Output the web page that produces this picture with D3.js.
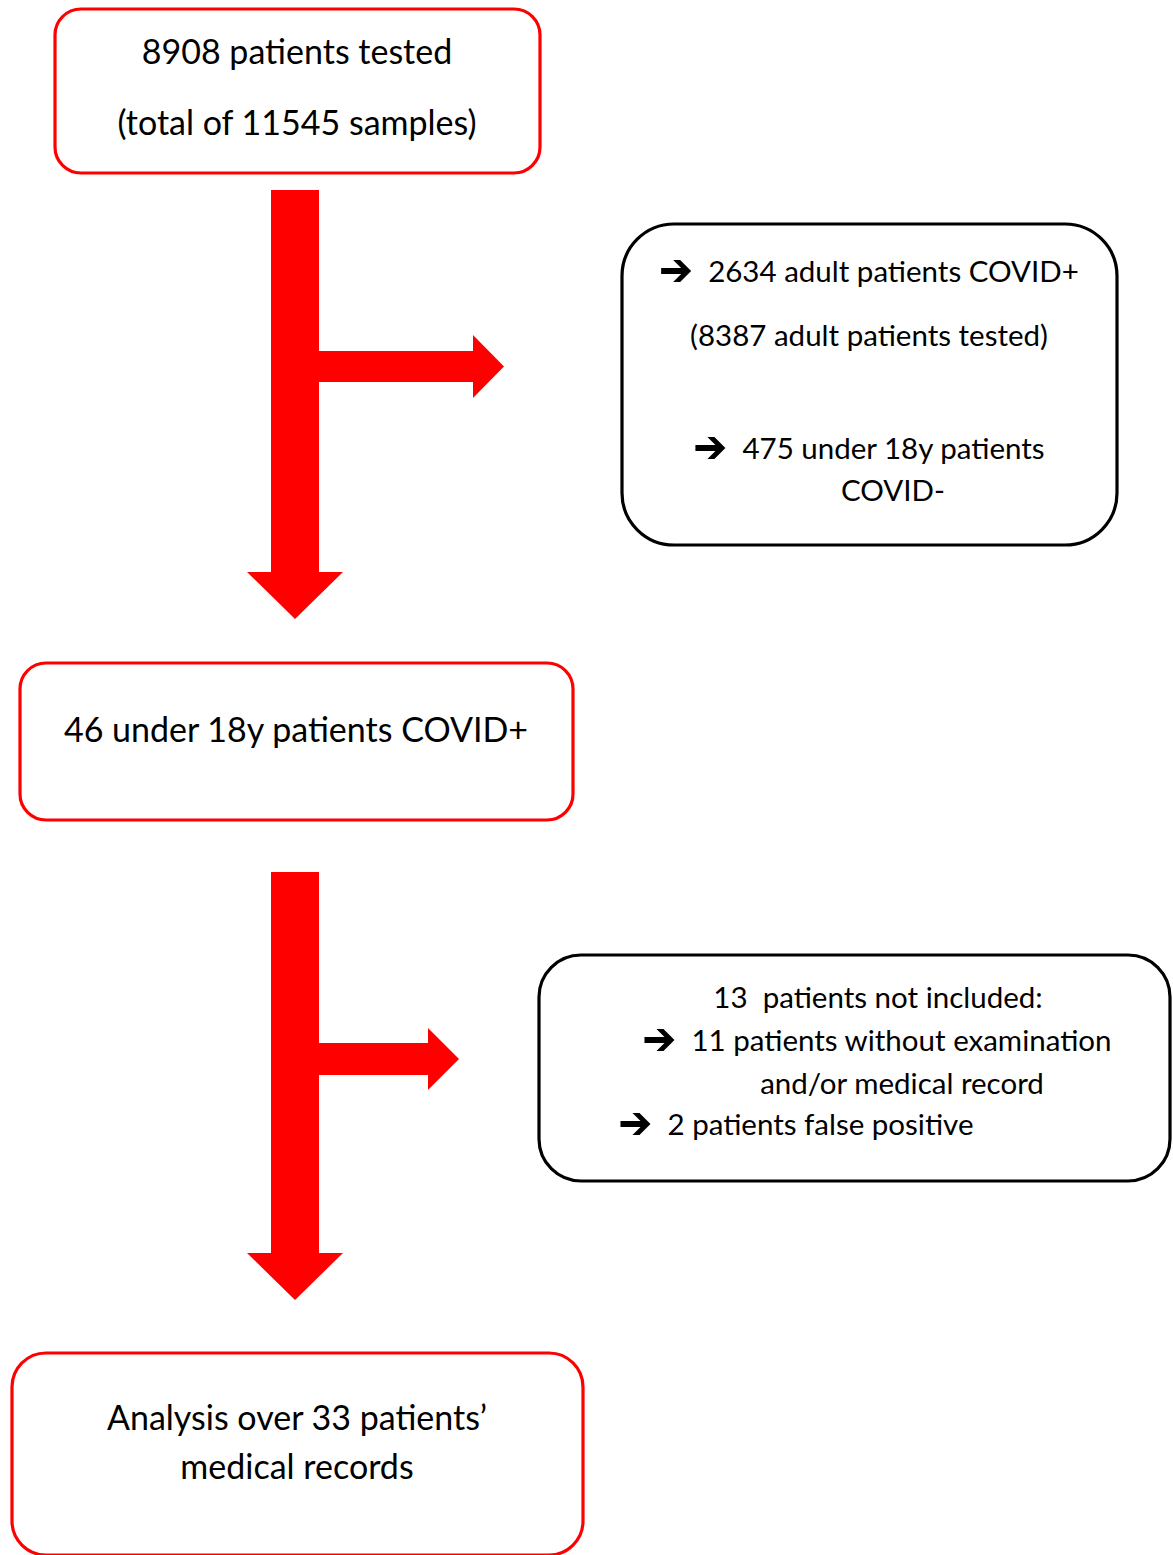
<!DOCTYPE html>
<html>
<head>
<meta charset="utf-8">
<script src="https://cdn.jsdelivr.net/npm/d3@7"></script>
<style>
  body { margin: 0; background: #fff; }
  svg { display: block; }
  text { font-family: Lato, "Open Sans", sans-serif; fill: #000; white-space: pre; }
</style>
</head>
<body>
<div id="chart"></div>
<script>
// flowchart text, one list per box
var screeningLines = ['8908 patients tested', '(total of 11545 samples)'];
var adultLines = ['2634 adult patients COVID+', '(8387 adult patients tested)', '475 under 18y patients', 'COVID-'];
var positiveLines = ['46 under 18y patients COVID+'];
var excludedLines = ['13  patients not included:', '11 patients without examination', 'and/or medical record', '2 patients false positive'];
var analysisLines = ['Analysis over 33 patients\u2019', 'medical records'];

// which lines carry the arrow bullet
var adultBullets = [true, false, true, false];
var excludedBullets = [false, true, false, true];

var W = 1173, H = 1555;
var RED = '#ff0000';

var svg = d3.select('#chart')
  .append('svg')
  .attr('width', W)
  .attr('height', H);

// boxes: x0, y0, x1, y1 and corner radius
var boxes = [
  {x0: 55, y0: 9, x1: 540, y1: 173, r: 26, color: RED, lines: screeningLines, size: 34,
   rows: [{x: 297, y: 64}, {x: 297, y: 135}]},
  {x0: 622, y0: 224, x1: 1117, y1: 545, r: 52, color: '#000', lines: adultLines, bullets: adultBullets, size: 29.5,
   rows: [{x: 870, y: 282}, {x: 869, y: 346}, {x: 870, y: 459}, {x: 893, y: 501}]},
  {x0: 20, y0: 663, x1: 573, y1: 820, r: 26, color: RED, lines: positiveLines, size: 34,
   rows: [{x: 296, y: 742}]},
  {x0: 539, y0: 955, x1: 1170, y1: 1181, r: 42, color: '#000', lines: excludedLines, bullets: excludedBullets, size: 29.5,
   rows: [{x: 878, y: 1008}, {x: 878, y: 1051}, {x: 902, y: 1094}, {x: 797, y: 1135}]},
  {x0: 12, y0: 1353, x1: 583, y1: 1555, r: 34, color: RED, lines: analysisLines, size: 34,
   rows: [{x: 297, y: 1430}, {x: 297, y: 1479}]}
];

// bold arrow bullet (wingdings style), drawn relative to its left/centre
var bulletW = 30, bulletGap = 17;
var bulletPts = [[0, -3], [20, -3], [12, -11], [19, -11], [30, 0], [19, 11], [12, 11], [20, 3], [0, 3]];
var line = d3.line();

boxes.forEach(function(b) {
  svg.append('rect')
    .attr('x', b.x0)
    .attr('y', b.y0)
    .attr('width', b.x1 - b.x0)
    .attr('height', b.y1 - b.y0)
    .attr('rx', b.r)
    .attr('ry', b.r)
    .attr('fill', 'none')
    .attr('stroke', b.color)
    .attr('stroke-width', 3.2);

  b.lines.forEach(function(txt, i) {
    var row = b.rows[i];
    var t = svg.append('text')
      .attr('y', row.y)
      .style('font-size', b.size + 'px')
      .text(txt);
    if (b.bullets && b.bullets[i]) {
      // centre bullet + gap + text as one group
      var len = t.node().getComputedTextLength();
      var x0 = row.x - (bulletW + bulletGap + len) / 2;
      t.attr('x', x0 + bulletW + bulletGap).attr('text-anchor', 'start');
      svg.append('path')
        .attr('d', line(bulletPts) + 'Z')
        .attr('transform', 'translate(' + x0 + ',' + (row.y - 11) + ')')
        .attr('fill', '#000');
    } else {
      t.attr('x', row.x).attr('text-anchor', 'middle');
    }
  });
});

// split arrows: vertical shaft with a branch to the right
var arrows = [
  {cx: 295, half: 24, top: 190, headY: 572, tip: 619, headHalf: 48,
   branchY: 366.5, branchHalf: 15.5, branchHeadX: 473, branchTip: 504, branchHeadHalf: 31.5},
  {cx: 295, half: 24, top: 872, headY: 1253, tip: 1300, headHalf: 48,
   branchY: 1059, branchHalf: 16, branchHeadX: 428, branchTip: 459, branchHeadHalf: 31}
];

arrows.forEach(function(a) {
  var l = a.cx - a.half, r = a.cx + a.half;
  var pts = [
    [l, a.top], [r, a.top],
    [r, a.branchY - a.branchHalf],
    [a.branchHeadX, a.branchY - a.branchHalf],
    [a.branchHeadX, a.branchY - a.branchHeadHalf],
    [a.branchTip, a.branchY],
    [a.branchHeadX, a.branchY + a.branchHeadHalf],
    [a.branchHeadX, a.branchY + a.branchHalf],
    [r, a.branchY + a.branchHalf],
    [r, a.headY],
    [a.cx + a.headHalf, a.headY],
    [a.cx, a.tip],
    [a.cx - a.headHalf, a.headY],
    [l, a.headY]
  ];
  svg.append('path')
    .attr('d', line(pts) + 'Z')
    .attr('fill', RED);
});
</script>
</body>
</html>
